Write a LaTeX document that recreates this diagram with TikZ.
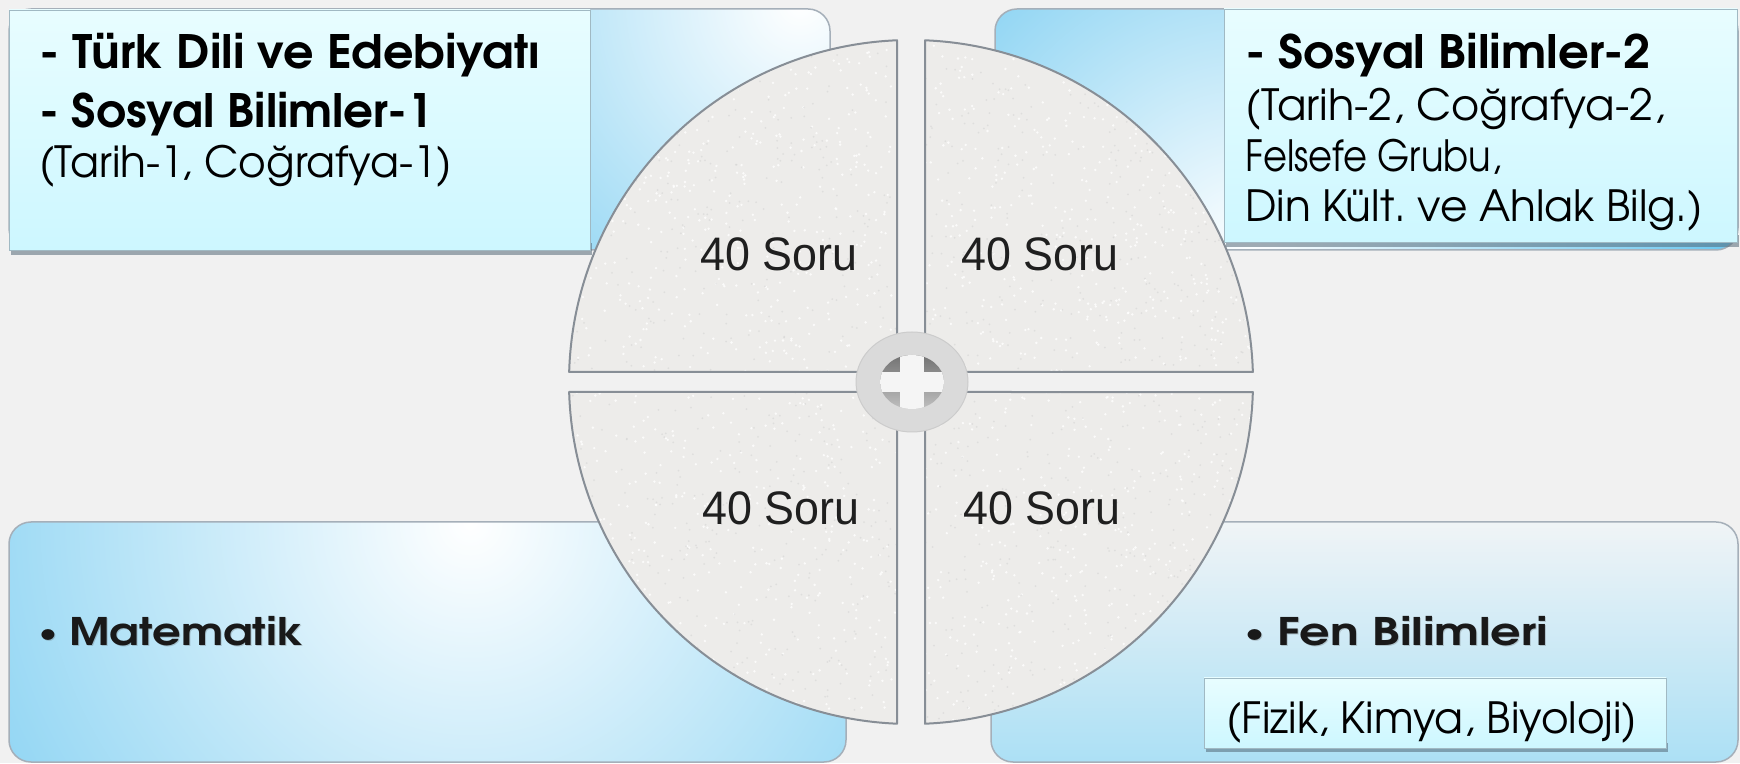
\documentclass[tikz,border=0pt]{standalone}
\usepackage{fontspec}
\usepackage{graphicx}
\setmainfont{Liberation Sans}
\newfontfamily\cg{texgyreadventor}[Extension=.otf,UprightFont=*-regular,BoldFont=*-bold]
\newfontfamily\arl{Liberation Sans}
\frenchspacing
\newcommand{\fw}[2]{\resizebox{#1pt}{\height}{#2}}
\newcommand{\smallbul}{{\fontsize{26}{26}\selectfont\raisebox{4pt}{•}}}
\definecolor{bgc}{RGB}{241,241,241}
\definecolor{pblue}{RGB}{78,188,236}
\definecolor{pborder}{RGB}{165,175,185}
\definecolor{lbtop}{RGB}{232,253,255}
\definecolor{lbbot}{RGB}{205,247,255}
\definecolor{lbborder}{RGB}{160,185,195}
\definecolor{shd}{RGB}{85,105,120}
\definecolor{qfill}{RGB}{237,236,234}
\definecolor{qborder}{RGB}{135,142,150}
\definecolor{wring}{RGB}{218,218,218}
\definecolor{brtop}{RGB}{240,244,246}
\definecolor{brbot}{RGB}{172,224,245}
\tikzset{
 panelframe/.style={draw=pborder, line width=1.5pt, rounded corners=22pt},
 lightbox/.style={top color=lbtop, bottom color=lbbot, draw=lbborder, line width=0.8pt},
 boxshadow/.style={fill=shd, opacity=0.55},
 quadline/.style={draw=qborder, line width=2pt, line join=round},
 boldtxt/.style={anchor=base west, inner sep=0pt, font=\cg\bfseries\fontsize{46}{50}\selectfont},
 regtxt/.style={anchor=base west, inner sep=0pt, font=\cg\fontsize{43}{48}\selectfont},
 bullettxt/.style={anchor=base west, inner sep=0pt, font=\cg\bfseries\fontsize{38}{44}\selectfont},
 sorutxt/.style={anchor=base, inner sep=0pt, text=black!88, font=\arl\fontsize{47}{50}\selectfont},
}
\begin{document}
\begin{tikzpicture}[x=1pt,y=1pt]
\useasboundingbox (0,0) rectangle (1740,763);
\fill[bgc] (0,0) rectangle (1740,763);

% ---- panels ----
\begin{scope}
 \clip[rounded corners=22pt] (9,513) rectangle (830,754);
 \fill[pblue] (9,513) rectangle (830,754);
 \shade[inner color=white, outer color=pblue] (800,760) circle (600);
\end{scope}
\draw[panelframe] (9,513) rectangle (830,754);

\begin{scope}
 \clip[rounded corners=22pt] (995,513) rectangle (1738,754);
 \fill[pblue] (995,513) rectangle (1738,754);
 \shade[inner color=white, outer color=pblue] (1250,505) circle (580);
\end{scope}
\draw[panelframe] (995,513) rectangle (1738,754);

\begin{scope}
 \clip[rounded corners=22pt] (9,1) rectangle (846,241);
 \fill[pblue] (9,1) rectangle (846,241);
 \shade[inner color=white, outer color=pblue] (470,240) circle (860);
\end{scope}
\draw[panelframe] (9,1) rectangle (846,241);

\begin{scope}
 \clip[rounded corners=22pt] (991,1) rectangle (1738,241);
 \shade[top color=brtop, bottom color=brbot] (991,1) rectangle (1738,241);
\end{scope}
\draw[panelframe] (991,1) rectangle (1738,241);

% ---- quadrants ----
\fill[qfill] (925,391) -- (1252.85,391) arc[start angle=1.676, end angle=87.654, radius=342] -- cycle;
\fill[qfill] (897,391) -- (897,722.71) arc[start angle=92.346, end angle=178.324, radius=342] -- cycle;
\fill[qfill] (897,371) -- (569.15,371) arc[start angle=181.676, end angle=267.654, radius=342] -- cycle;
\fill[qfill] (925,371) -- (925,39.29) arc[start angle=272.346, end angle=358.324, radius=342] -- cycle;
% speckle texture
\begin{scope}
 \clip (911,381) circle (341);
 \pgfmathsetseed{4711}
 \foreach \i in {1,...,1800} {
  \pgfmathsetmacro{\px}{570+682*rnd}
  \pgfmathsetmacro{\py}{40+682*rnd}
  \fill[white, opacity=0.8] (\px,\py) circle (1.3);
 }
 \foreach \i in {1,...,1200} {
  \pgfmathsetmacro{\px}{570+682*rnd}
  \pgfmathsetmacro{\py}{40+682*rnd}
  \fill[black!18, opacity=0.5] (\px,\py) circle (1.0);
 }
\end{scope}
\fill[bgc] (897,30) rectangle (925,735);
\fill[bgc] (560,371) rectangle (1265,391);
\draw[quadline] (925,391) -- (1252.85,391) arc[start angle=1.676, end angle=87.654, radius=342] -- cycle;
\draw[quadline] (897,391) -- (897,722.71) arc[start angle=92.346, end angle=178.324, radius=342] -- cycle;
\draw[quadline] (897,371) -- (569.15,371) arc[start angle=181.676, end angle=267.654, radius=342] -- cycle;
\draw[quadline] (925,371) -- (925,39.29) arc[start angle=272.346, end angle=358.324, radius=342] -- cycle;

% ---- washer ----
\fill[wring, draw=black!20, line width=1pt] (912,381) ellipse [x radius=56, y radius=50];
\begin{scope}
 \clip (912,381) ellipse [x radius=32, y radius=27];
 \shade[top color=black!55, bottom color=black!25] (880,354) rectangle (944,408);
 \fill[black!4] (900,354) rectangle (924,408);
 \fill[black!4] (880,371) rectangle (944,391);
\end{scope}

% ---- light boxes ----
\fill[boxshadow] (11,508) rectangle (592,520);
\draw[lightbox] (9,513) rectangle (590,753);
\fill[boxshadow] (1226,516) rectangle (1739,528);
\draw[lightbox] (1224,521) rectangle (1737,754);

% ---- texts ----
\node[boldtxt] (tl1) at (39,694) {\fw{501}{- Türk Dili ve Edebiyatı}};
\node[boldtxt] (tl2) at (39,635) {\fw{394}{- Sosyal Bilimler-1}};
\node[regtxt]  (tl3) at (39,585) {\fw{413}{(Tarih-1, Coğrafya-1)}};

\node[boldtxt] (tr1) at (1245,694) {\fw{405}{- Sosyal Bilimler-2}};
\node[regtxt]  (tr2) at (1245,642) {\fw{420}{(Tarih-2, Coğrafya-2,}};
\node[regtxt]  (tr3) at (1245,591) {\fw{256}{Felsefe Grubu,}};
\node[regtxt]  (tr4) at (1245,541) {\fw{458}{Din Kült. ve Ahlak Bilg.)}};

\node[bullettxt, text=black!70, opacity=0.25] (matS) at (40,116) {\fw{264}{\smallbul\ Matematik}};
\node[bullettxt, text=black!90] (mat) at (39,117) {\fw{264}{\smallbul\ Matematik}};
\node[bullettxt, text=black!70, opacity=0.25] (fenS) at (1246,116) {\fw{303}{\smallbul\ Fen Bilimleri}};
\node[bullettxt, text=black!90] (fen) at (1245,117) {\fw{303}{\smallbul\ Fen Bilimleri}};

\fill[boxshadow] (1206,11) rectangle (1668,20);
\draw[lightbox] (1204,15) rectangle (1666,85);
\node[regtxt] (fiz) at (1226,30) {\fw{411}{(Fizik, Kimya, Biyoloji)}};

\node[sorutxt] (q1) at (779,492) {\fw{157}{40 Soru}};
\node[sorutxt] (q2) at (1040,492) {\fw{157}{40 Soru}};
\node[sorutxt] (q3) at (781,238) {\fw{157}{40 Soru}};
\node[sorutxt] (q4) at (1042,238) {\fw{157}{40 Soru}};
\end{tikzpicture}
\end{document}
